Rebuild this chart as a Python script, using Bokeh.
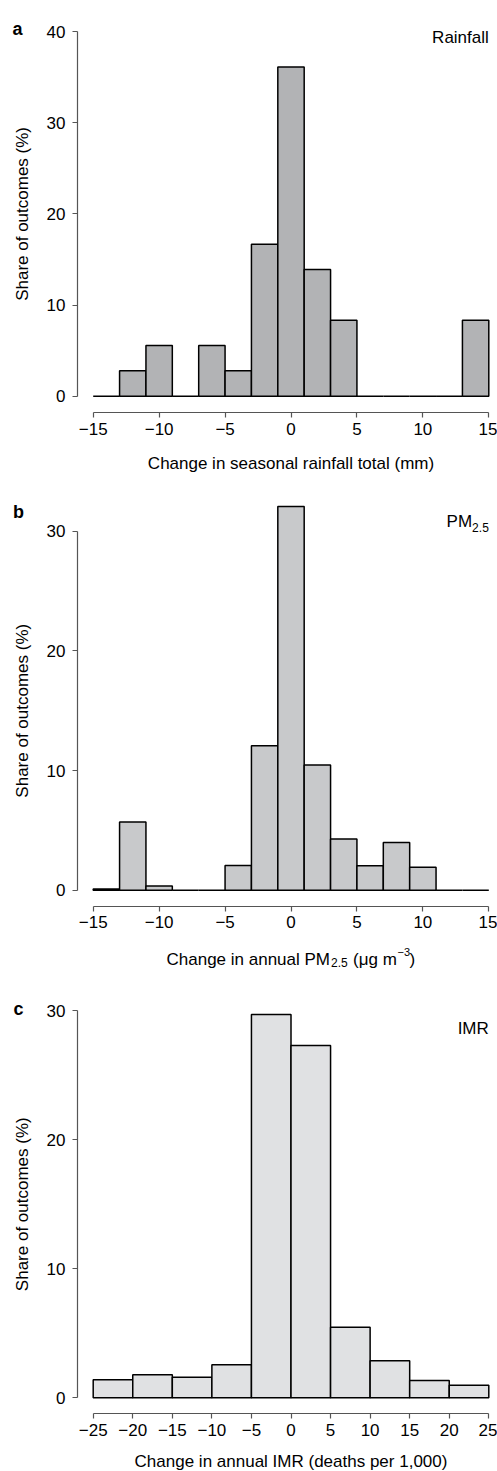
import math
from bokeh.plotting import figure
from bokeh.models import Label, FixedTicker, CustomJSTickFormatter
from bokeh.layouts import column
from bokeh.embed import file_html
from bokeh.resources import INLINE

# ---------------- data ----------------
rain_edges = [-15, -13, -11, -9, -7, -5, -3, -1, 1, 3, 5, 7, 9, 11, 13, 15]
rain_share = [0, 2.78, 5.56, 0, 5.56, 2.78, 16.67, 36.11, 13.89, 8.33, 0, 0, 0, 0, 8.33]
rain_xticks = [-15, -10, -5, 0, 5, 10, 15]
rain_yticks = [0, 10, 20, 30, 40]

pm_edges = [-15, -13, -11, -9, -7, -5, -3, -1, 1, 3, 5, 7, 9, 11, 13, 15]
pm_share = [0.1, 5.7, 0.35, 0, 0, 2.06, 12.08, 32.06, 10.46, 4.27, 2.04, 3.99, 1.92, 0, 0]
pm_xticks = [-15, -10, -5, 0, 5, 10, 15]
pm_yticks = [0, 10, 20, 30]

imr_edges = [-25, -20, -15, -10, -5, 0, 5, 10, 15, 20, 25]
imr_share = [1.39, 1.78, 1.60, 2.56, 29.69, 27.29, 5.47, 2.87, 1.34, 0.98]
imr_xticks = [-25, -20, -15, -10, -5, 0, 5, 10, 15, 20, 25]
imr_yticks = [0, 10, 20, 30]

y_title = "Share of outcomes (%)"

# ---------------- layout ----------------
FONT = "Liberation Sans"
FIG_W = 497
YAXIS_X = 77          # page x of the y-axis line
AXIS_COL = "#555555"


class Panel:
    def __init__(self, edges, share, fill, xticks, yticks, fig_top, fig_bot,
                 x_anchor, y_anchor, xaxis_y):
        self.fig_top = fig_top
        p0, p1 = x_anchor
        x0, x1 = xticks[0], xticks[-1]
        self.sx = (p1 - p0) / (x1 - x0)
        self.p0, self.x0 = p0, x0
        self.py0, ptop = y_anchor
        self.sy = (self.py0 - ptop) / yticks[-1]

        p = figure(width=FIG_W, height=fig_bot - fig_top,
                   x_range=(self.dx(0), self.dx(FIG_W)),
                   y_range=(self.dy(fig_bot), self.dy(fig_top)),
                   output_backend="svg", toolbar_location=None, min_border=0)
        p.outline_line_color = None
        p.grid.visible = False
        p.background_fill_color = "white"
        p.border_fill_color = "white"

        p.quad(left=edges[:-1], right=edges[1:], bottom=0, top=share,
               fill_color=fill, line_color="black", line_width=1.5)

        fmt = CustomJSTickFormatter(code="return tick < 0 ? '\\u2212' + Math.abs(tick) : '' + tick;")
        for ax, ticks in ((p.xaxis[0], xticks), (p.yaxis[0], yticks)):
            ax.ticker = FixedTicker(ticks=ticks)
            ax.bounds = (ticks[0], ticks[-1])
            ax.formatter = fmt
            ax.axis_line_color = AXIS_COL
            ax.axis_line_width = 1.2
            ax.major_tick_line_color = AXIS_COL
            ax.major_tick_line_width = 1.2
            ax.major_tick_in = 0
            ax.major_tick_out = 5
            ax.minor_tick_line_color = None
            ax.major_label_text_font = FONT
            ax.major_label_text_font_size = "17px"
            ax.major_label_text_color = "black"
        p.xaxis.major_label_standoff = 5
        p.yaxis.major_label_standoff = 7
        p.yaxis.fixed_location = self.dx(YAXIS_X)
        p.xaxis.fixed_location = self.dy(xaxis_y)
        self.p = p

    def dx(self, px):
        return self.x0 + (px - self.p0) / self.sx

    def dy(self, py):
        return (self.py0 - py) / self.sy

    def text(self, s, px, py, size=17, align="left", baseline="alphabetic", bold=False, angle=0.0):
        self.p.add_layout(Label(x=self.dx(px), y=self.dy(py), text=s,
                                text_font=FONT, text_font_size=f"{size}px",
                                text_font_style="bold" if bold else "normal",
                                text_color="black", text_align=align,
                                text_baseline=baseline, angle=angle))


# ----- panel a -----
A = Panel(rain_edges, rain_share, "#b2b3b5", rain_xticks, rain_yticks,
          fig_top=0, fig_bot=475, x_anchor=(92.7, 488.3), y_anchor=(395.7, 31.0), xaxis_y=412.3)
A.text("a", 12, 28.3, size=18, bold=True)
A.text("Rainfall", 488.3, 36.7, align="right")
A.text(y_title, 22, 213.4, align="center", baseline="middle", angle=math.pi / 2)
A.text("Change in seasonal rainfall total (mm)", 290.5, 463.3, align="center")

# ----- panel b -----
B = Panel(pm_edges, pm_share, "#c8c9cb", pm_xticks, pm_yticks,
          fig_top=475, fig_bot=985, x_anchor=(92.7, 488.3), y_anchor=(889.7, 530.7), xaxis_y=905.7)
B.text("b", 12.5, 511.0, size=18, bold=True)
B.text("PM", 471.6, 520.7, align="right")
B.text("2.5", 488.3, 526.5, size=12, align="right")
B.text(y_title, 22, 710.2, align="center", baseline="middle", angle=math.pi / 2)
B.text("Change in annual PM", 166, 959)
B.text("2.5", 330.5, 962, size=12)
B.text("(\u03bcg m", 352.5, 959)
B.text("\u22123", 397, 951, size=11)
B.text(")", 409, 959)

# ----- panel c -----
C = Panel(imr_edges, imr_share, "#e0e1e3", imr_xticks, imr_yticks,
          fig_top=985, fig_bot=1471, x_anchor=(92.7, 488.3), y_anchor=(1397.3, 1010.0), xaxis_y=1413.3)
C.text("c", 13, 1008.3, size=18, bold=True)
C.text("IMR", 488.3, 1028.3, align="right")
C.text(y_title, 22, 1203.7, align="center", baseline="middle", angle=math.pi / 2)
C.text("Change in annual IMR (deaths per 1,000)", 290.5, 1460.5, align="center")

layout = column(A.p, B.p, C.p, spacing=0)
open("out.html", "w").write(file_html(layout, INLINE))
